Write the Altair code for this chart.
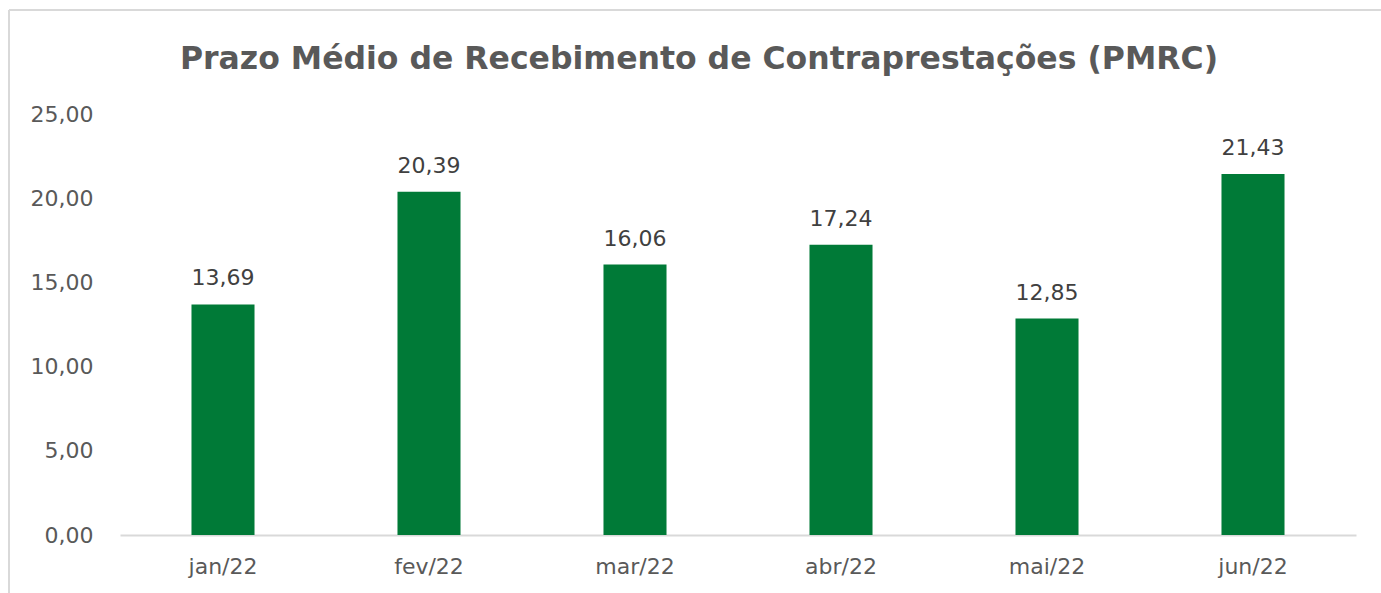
import altair as alt
import pandas as pd

months = ["jan/22", "fev/22", "mar/22", "abr/22", "mai/22", "jun/22"]
values = [13.69, 20.39, 16.06, 17.24, 12.85, 21.43]
labels = ["13,69", "20,39", "16,06", "17,24", "12,85", "21,43"]

df = pd.DataFrame({"mes": months, "valor": values, "rotulo": labels})

FONT = "DejaVu Sans"
TFONT = "DejaVu Sans"
W, H = 1236, 421

xscale = alt.Scale(paddingInner=0.694, paddingOuter=0.347)
yscale = alt.Scale(domain=[0, 25], nice=False, zero=True)

x = alt.X("mes:N", sort=months, title=None, scale=xscale,
          axis=alt.Axis(labelAngle=0, labelFont=FONT, labelFontSize=22,
                        labelColor="#595959", labelPadding=21, ticks=False,
                        domainColor="#d9d9d9", domainWidth=2))
y = alt.Y("valor:Q", title=None, scale=yscale,
          axis=alt.Axis(values=[0, 5, 10, 15, 20, 25], grid=False, domain=False,
                        ticks=False, labelFont=FONT, labelFontSize=22,
                        labelColor="#595959", labelPadding=27,
                        labelExpr="replace(format(datum.value, '.2f'), '.', ',')"))

bars = alt.Chart(df).mark_bar(color="#007A37").encode(x=x, y=y)

text = alt.Chart(df).mark_text(font=FONT, fontSize=22, color="#404040",
                               baseline="alphabetic", dy=-19).encode(
    x=alt.X("mes:N", sort=months, scale=xscale),
    y=alt.Y("valor:Q", scale=yscale), text="rotulo:N")

top_edge = alt.Chart(df).mark_rule(stroke="#d9d9d9", strokeWidth=2).encode(
    x=alt.value(-111), x2=alt.value(1300), y=alt.value(-104))
left_edge = alt.Chart(df).mark_rule(stroke="#d9d9d9", strokeWidth=2).encode(
    x=alt.value(-111), y=alt.value(-104), y2=alt.value(520))

chart = alt.layer(top_edge, left_edge, bars, text).properties(
    width=W, height=H,
    background="white",
    padding={"left": 120, "top": 114, "right": 25, "bottom": 58},
    autosize=alt.AutoSizeParams(type="none"),
    title=alt.TitleParams("Prazo Médio de Recebimento de Contraprestações (PMRC)",
                          font=TFONT, fontSize=31.5, fontWeight="bold", color="#595959",
                          anchor="middle", dx=-39, offset=0, dy=91,
                          baseline="alphabetic")
).configure_view(stroke="transparent", strokeWidth=0)

chart.save("out.html", embed_options={"renderer": "svg", "actions": False})
